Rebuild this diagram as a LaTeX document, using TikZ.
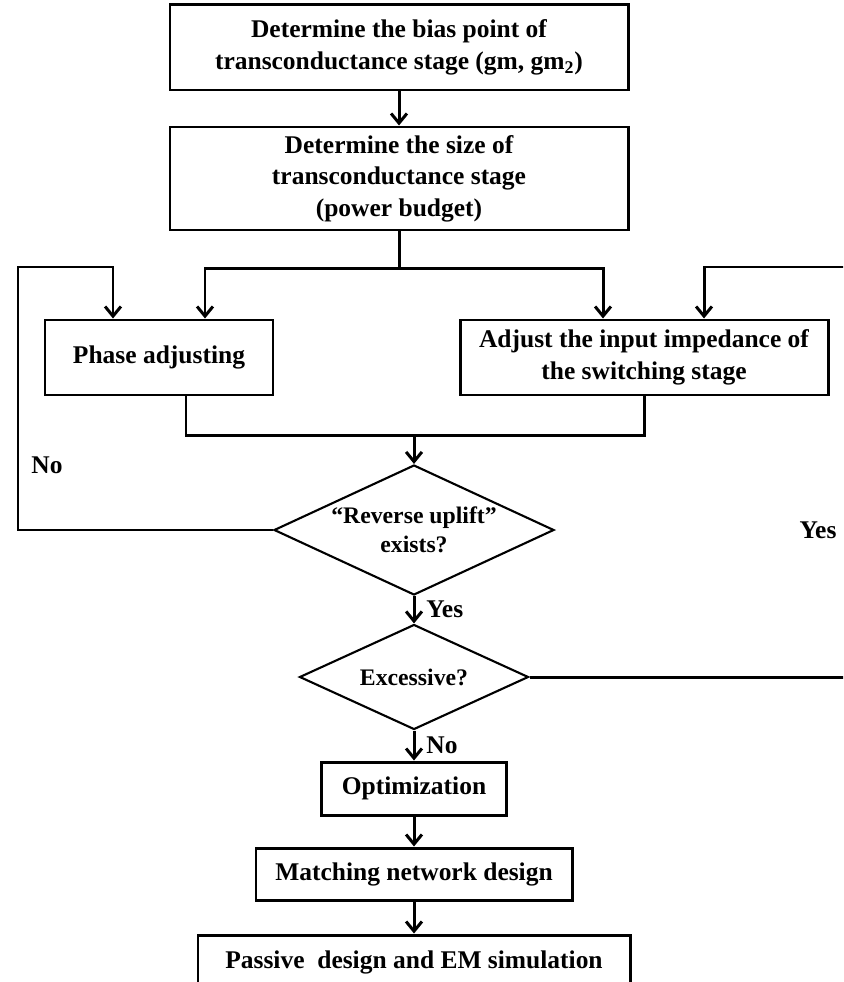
\documentclass[tikz,border=0pt]{standalone}
\usepackage{fontspec}
\setmainfont{Liberation Serif}
\usetikzlibrary{positioning,shapes.geometric,arrows.meta,calc}
\begin{document}
\begin{tikzpicture}[node distance=2cm, line width=1.7pt,
    box/.style={rectangle, draw, align=center, inner sep=2pt, font=\fontsize{14.5}{18}\selectfont\bfseries},
    test/.style={diamond, draw, line width=1.2pt, align=center, inner sep=0pt, font=\fontsize{13.5}{16.5}\selectfont\bfseries},
    lbl/.style={font=\fontsize{14.5}{16}\selectfont\bfseries},
    arr/.style={-{Straight Barb[length=5.5pt,width=9pt]}}]
    \useasboundingbox (0,0) rectangle (16.86,-19.64);
    \clip (0,0) rectangle (16.86,-19.64);
    \node [box, minimum width=9.16cm, minimum height=1.7cm] (bias) at (7.98,-0.95) {Determine the bias point of\\transconductance stage (gm, gm\textsubscript{2})};
    \node [box, below of=bias, node distance=2.62cm, minimum width=9.16cm, minimum height=2.06cm] (size) {Determine the size of\\transconductance stage\\(power budget)};
    \node [box, below of=size, node distance=3.58cm, xshift=-4.8cm, minimum width=4.56cm, minimum height=1.5cm] (phase) {Phase adjusting};
    \node [box, below of=size, node distance=3.58cm, xshift=4.9cm, minimum width=7.36cm, minimum height=1.5cm] (adjust) {Adjust the input impedance of\\the switching stage};
    \node [test, below of=size, node distance=7.03cm, xshift=0.3cm, aspect=2.15, minimum width=5.6cm, minimum height=2.6cm] (rev) {“Reverse uplift”\\exists?};
    \node [test, below of=rev, node distance=2.94cm, aspect=2.2, minimum width=4.58cm, minimum height=2.1cm] (exc) {Excessive?};
    \node [box, below of=exc, node distance=2.23cm, minimum width=3.7cm, minimum height=1.06cm] (opt) {Optimization};
    \node [box, below of=opt, node distance=1.71cm, minimum width=6.32cm, minimum height=1.04cm] (match) {Matching network design};
    \node [box, below of=match, node distance=1.77cm, minimum width=8.64cm, minimum height=1.1cm] (pass) {Passive\ \ design and EM simulation};
    \node [lbl] (noL) at (0.94,-9.3) {No};
    \node [lbl] (yesR) at (16.36,-10.6) {Yes};

    \coordinate (split) at ($(size.south)+(0,-0.74)$);
    \coordinate (merge) at ($(rev.north)+(0,0.56)$);
    \coordinate (loopL) at (0.36,-5.34);
    \coordinate (loopR) at (17.2,-5.34);

    \draw [arr] (bias) -- (size);
    \draw (size) -- (split);
    \draw [arr] (split) -| ([xshift=0.92cm]phase.north);
    \draw [arr] (split) -| ([xshift=-0.82cm]adjust.north);
    \draw ([xshift=0.54cm]phase.south) |- (merge);
    \draw (adjust.south) |- (merge);
    \draw [arr] (merge) -- (rev);
    \draw [arr] (rev.west) -| (loopL) -| ([xshift=-0.92cm]phase.north);
    \draw [arr] (exc.east) -| (loopR) -| ([xshift=1.2cm]adjust.north);
    \draw [arr] (rev) -- node [lbl, right, xshift=0.1cm] {Yes} (exc);
    \draw [arr] (exc) -- node [lbl, right, xshift=0.1cm] {No} (opt);
    \draw [arr] (opt) -- (match);
    \draw [arr] (match) -- (pass);
\end{tikzpicture}
\end{document}
